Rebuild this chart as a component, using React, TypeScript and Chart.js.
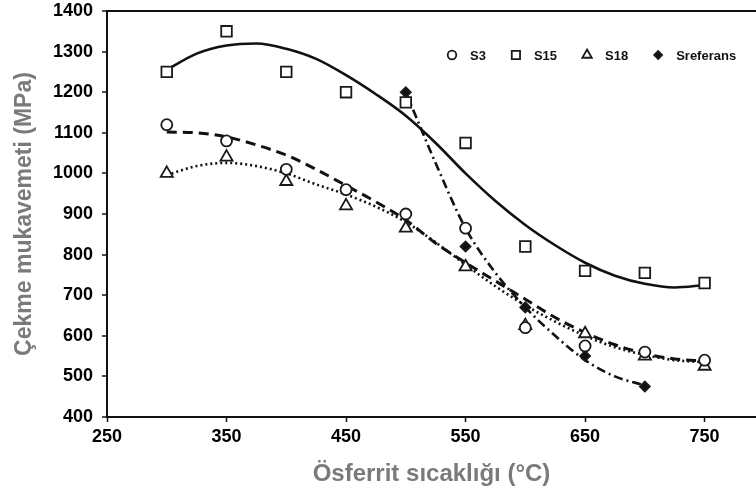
import React, { useEffect, useRef } from 'react';
import { Chart, registerables } from 'chart.js';
import { drawPoint } from 'chart.js/helpers';

Chart.register(...registerables);

// ---- data ----
const temps = [300, 350, 400, 450, 500, 550, 600, 650, 700, 750];
const s3Values = [1120, 1080, 1010, 960, 900, 865, 620, 575, 560, 540];
const s15Values = [1250, 1350, 1250, 1200, 1175, 1075, 820, 760, 755, 730];
const s18Values = [1000, 1040, 980, 920, 865, 770, 625, 605, 550, 525];
const refTemps = [500, 550, 600, 650, 700];
const srefValues = [1200, 820, 670, 550, 475];

// trend curves
const fitTemps = [300, 325, 350, 375, 400, 425, 450, 475, 500, 525, 550, 575, 600, 625, 650, 675, 700, 725, 750];
const s15Fit = [1255, 1295, 1315, 1320, 1307, 1282, 1242, 1195, 1142, 1075, 1000, 932, 873, 823, 780, 748, 728, 719, 725];
const s3Fit = [1102, 1100, 1090, 1070, 1045, 1010, 970, 930, 885, 828, 780, 735, 690, 645, 608, 578, 556, 543, 538];
const s18Fit = [996, 1018, 1026, 1018, 1000, 973, 948, 918, 880, 830, 775, 722, 675, 635, 600, 572, 553, 540, 535];
const refFitTemps = [500, 525, 550, 575, 600, 625, 650, 675, 700];
const srefFit = [1200, 1025, 865, 755, 670, 600, 540, 500, 478];

const xTicks = [250, 350, 450, 550, 650, 750];
const seriesNames = ['S3', 'S15', 'S18', 'Sreferans'];
const xTitle = 'Ösferrit sıcaklığı (°C)';
const yTitle = 'Çekme mukavemeti (MPa)';

const FONT = "'Liberation Sans', Arial, Helvetica, sans-serif";

const pts = (xs: number[], ys: number[]) => xs.map((x, i) => ({ x, y: ys[i] }));

const legendPlugin = {
  id: 'insideLegend',
  afterDatasetsDraw(chart: any) {
    const { ctx, chartArea } = chart;
    const y = chartArea.top + 44;
    let x = chartArea.left + 345;
    ctx.save();
    ctx.font = `bold 13px ${FONT}`;
    ctx.textBaseline = 'middle';
    ctx.textAlign = 'left';
    for (let i = 0; i < seriesNames.length; i++) {
      const ds = chart.data.datasets[i];
      ctx.fillStyle = ds.pointBackgroundColor;
      ctx.strokeStyle = ds.pointBorderColor;
      ctx.lineWidth = ds.pointBorderWidth;
      drawPoint(ctx, { pointStyle: ds.pointStyle, radius: ds.pointRadius * 0.78, borderWidth: ds.pointBorderWidth, rotation: 0 } as any, x, y);
      ctx.fillStyle = '#111';
      const label = ds.label as string;
      ctx.fillText(label, x + 18, y + 1);
      x += 18 + ctx.measureText(label).width + 30;
    }
    ctx.restore();
  },
};

export default function App() {
  const ref = useRef<HTMLCanvasElement>(null);

  useEffect(() => {
    if (!ref.current) return;
    const stroke = '#1a1a1a';
    const marker = (label: string, xs: number[], ys: number[], style: string, radius: number, fill: string) => ({
      label,
      data: pts(xs, ys),
      showLine: false,
      pointStyle: style,
      pointRadius: radius,
      pointHoverRadius: radius,
      pointBackgroundColor: fill,
      pointBorderColor: stroke,
      pointBorderWidth: 1.8,
      backgroundColor: fill,
      borderColor: stroke,
    });
    const curve = (label: string, xs: number[], ys: number[], dash: number[], width: number) => ({
      label,
      data: pts(xs, ys),
      showLine: true,
      pointRadius: 0,
      pointHoverRadius: 0,
      borderColor: '#111',
      borderWidth: width,
      borderDash: dash,
      cubicInterpolationMode: 'monotone',
      fill: false,
    });

    const chart = new Chart(ref.current, {
      type: 'scatter',
      data: {
        datasets: [
          marker(seriesNames[0], temps, s3Values, 'circle', 5.5, '#fff'),
          marker(seriesNames[1], temps, s15Values, 'rect', 7.5, '#fff'),
          marker(seriesNames[2], temps, s18Values, 'triangle', 7, '#fff'),
          marker(seriesNames[3], refTemps, srefValues, 'rectRot', 5, '#111'),
          curve('S3 eğri', fitTemps, s3Fit, [10, 6], 3),
          curve('S15 eğri', fitTemps, s15Fit, [], 2.6),
          curve('S18 eğri', fitTemps, s18Fit, [2, 3], 2.6),
          curve('Sreferans eğri', refFitTemps, srefFit, [9, 4, 2, 4], 2.6),
        ] as any,
      },
      options: {
        animation: false,
        responsive: true,
        maintainAspectRatio: false,
        layout: { autoPadding: false, padding: { top: 11, left: 0, right: 0, bottom: 0 } },
        plugins: {
          legend: { display: false },
          tooltip: { enabled: false },
        },
        scales: {
          x: {
            type: 'linear',
            min: 250,
            max: 793,
            afterBuildTicks: (scale: any) => {
              scale.ticks = xTicks.map((v) => ({ value: v }));
            },
            afterFit: (scale: any) => {
              scale.height = 78;
              scale.paddingLeft = 0;
              scale.paddingRight = 0;
            },
            border: { display: true, color: '#111', width: 2 },
            grid: { drawOnChartArea: false, color: 'transparent', tickColor: '#111', tickLength: 5, tickWidth: 1.5 },
            ticks: {
              color: '#000',
              padding: 4,
              maxRotation: 0,
              callback: (v: any) => String(v),
              font: { family: FONT, size: 18, weight: 'bold' },
            },
            title: {
              display: true,
              text: xTitle,
              color: '#7a7a7a',
              padding: { top: 0, bottom: 6 },
              font: { family: FONT, size: 24, weight: 'bold' },
            },
          },
          y: {
            type: 'linear',
            min: 400,
            max: 1400,
            ticks: {
              stepSize: 100,
              color: '#000',
              padding: 9,
              callback: (v: any) => String(v),
              font: { family: FONT, size: 18, weight: 'bold' },
            },
            afterFit: (scale: any) => {
              scale.width = 107;
              scale.paddingTop = 0;
              scale.paddingBottom = 0;
            },
            border: { display: true, color: '#111', width: 2 },
            grid: {
              drawOnChartArea: true,
              color: (c: any) => (c.tick && c.tick.value === 1400 ? '#111' : 'transparent'),
              lineWidth: 2,
              tickColor: '#111',
              tickLength: 5,
              tickWidth: 1.5,
            },
            title: {
              display: true,
              text: yTitle,
              color: '#7a7a7a',
              padding: { top: 11, bottom: 0 },
              font: { family: FONT, size: 23, weight: 'bold' },
            },
          },
        },
      } as any,
      plugins: [legendPlugin],
    });
    return () => chart.destroy();
  }, []);

  return (
    <div style={{ position: 'fixed', left: 0, top: 0, width: 756, height: 495, background: '#fff' }}>
      <canvas ref={ref} />
    </div>
  );
}
